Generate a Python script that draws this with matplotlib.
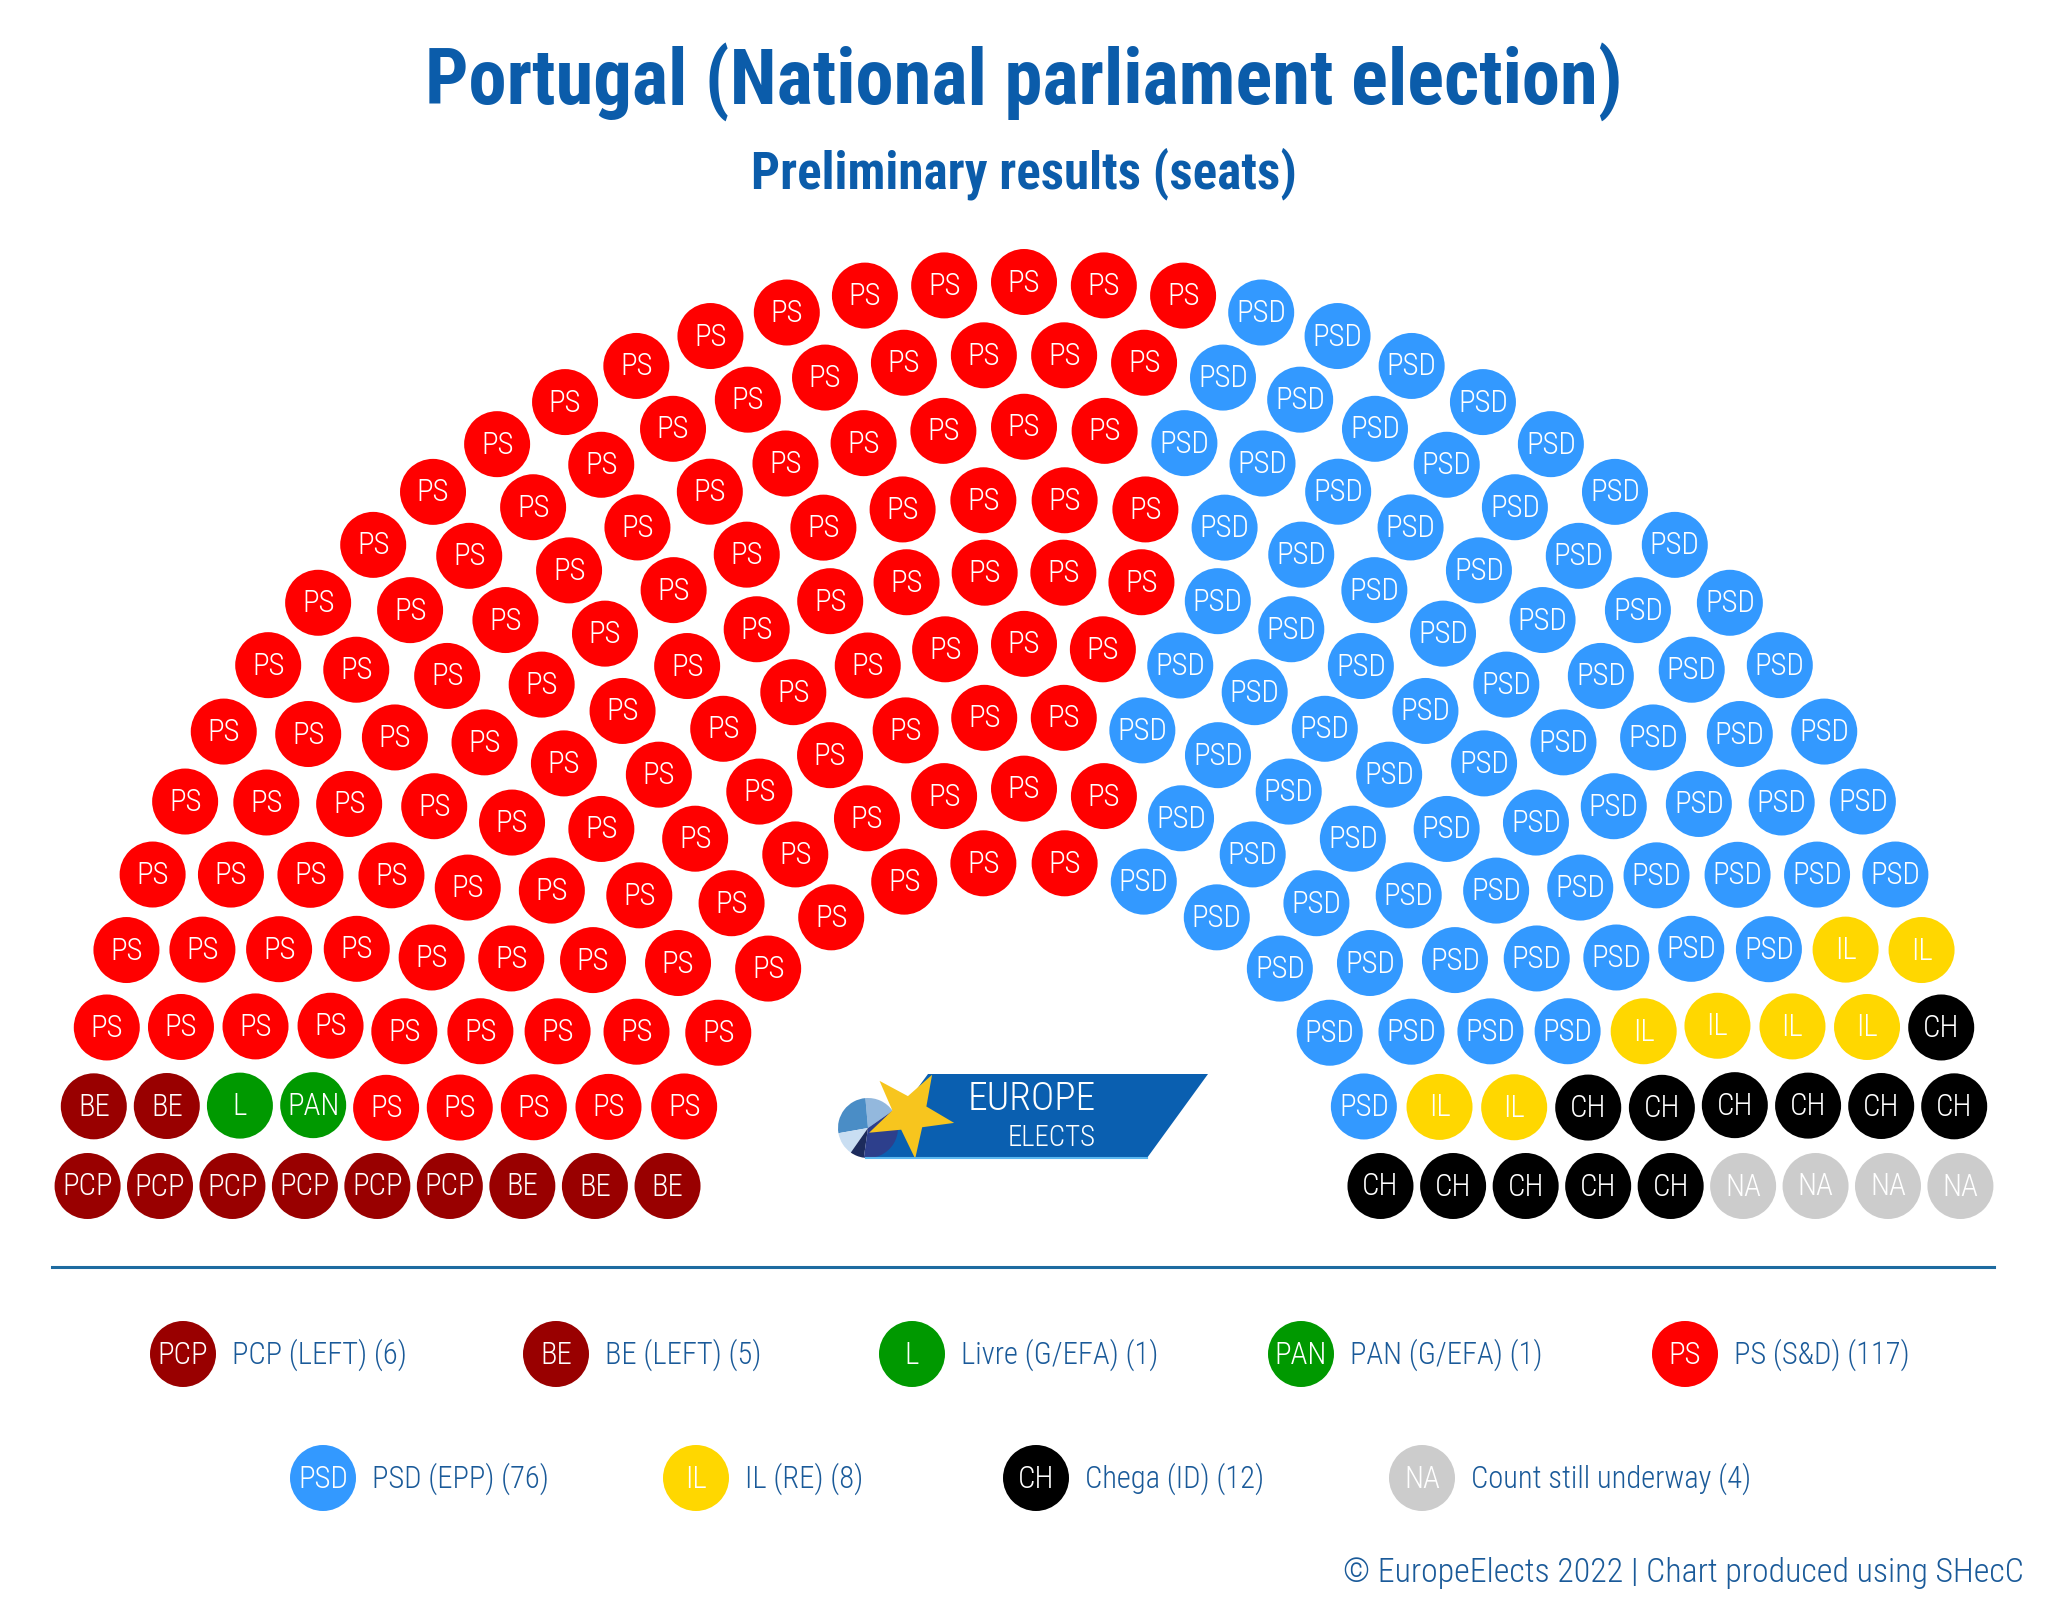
import os
import numpy as np
import matplotlib
matplotlib.use("Agg")
import matplotlib.pyplot as plt
from matplotlib import font_manager as fm
from matplotlib.patches import Circle, Polygon, Wedge

# ---------------- data ----------------
party_codes = ["PCP", "BE", "L", "PAN", "PS", "PSD", "IL", "CH", "NA"]
seat_counts = [6, 5, 1, 1, 117, 76, 8, 12, 4]
party_colors = ["#990000", "#990000", "#009900", "#009900", "#FF0000",
                "#3399FF", "#FFD700", "#000000", "#CCCCCC"]
legend_labels = ["PCP (LEFT) (6)", "BE (LEFT) (5)", "Livre (G/EFA) (1)",
                 "PAN (G/EFA) (1)", "PS (S&D) (117)", "PSD (EPP) (76)",
                 "IL (RE) (8)", "Chega (ID) (12)", "Count still underway (4)"]
title_text = "Portugal (National parliament election)"
subtitle_text = "Preliminary results (seats)"
footer_text = "\u00a9 EuropeElects 2022 | Chart produced using SHecC"

# ---------------- layout ----------------
W, H = 2048, 1609
BLUE = "#0B5CAA"
TXT_BLUE = "#1A5A99"
ring_seats = [14, 17, 20, 23, 26, 28, 31, 34, 37]      # inner -> outer
R_IN, R_OUT = 358, 937
CX, CY = 1024, 1219
DOT_R = 33

# fonts
files = {}
for f in fm.fontManager.ttflist:
    files.setdefault(os.path.basename(f.fname).lower(), f.fname)


def find_font(patterns, fallback):
    for pat in patterns:
        for k in sorted(files):
            if all(p in k for p in pat):
                return fm.FontProperties(fname=files[k])
    return fallback


fp_bold = find_font([("robotocondensed-bold",), ("liberationsansnarrow-bold.",),
                     ("notosans-condensedbold.",), ("opensans-condensedbold",),
                     ("dejavusanscondensed-bold.",), ("roboto-bold.",)],
                    fm.FontProperties(family="DejaVu Sans", weight="bold"))
fp_light = find_font([("robotocondensed-light.",), ("notosans-condensedlight.",),
                      ("robotocondensed-regular.",), ("liberationsansnarrow-regular.",),
                      ("opensans-condensedlight",), ("dejavusanscondensed.",),
                      ("roboto-light.",)],
                     fm.FontProperties(family="DejaVu Sans"))

fig = plt.figure(figsize=(W / 100, H / 100), dpi=100)
ax = fig.add_axes([0, 0, 1, 1])
ax.set_xlim(0, W)
ax.set_ylim(H, 0)
ax.axis("off")
renderer = fig.canvas.get_renderer()


def fit_size(text, fp, target_w):
    t = ax.text(0, 0, text, fontproperties=fp, fontsize=100)
    w = t.get_window_extent(renderer).width
    t.remove()
    return 100.0 * target_w / w


# ---------------- title ----------------
ax.text(W / 2, 82, title_text, fontproperties=fp_bold,
        fontsize=min(fit_size(title_text, fp_bold, 1199), 56),
        color=BLUE, ha="center", va="center")
ax.text(W / 2, 174, subtitle_text, fontproperties=fp_bold,
        fontsize=min(fit_size(subtitle_text, fp_bold, 546), 38),
        color=BLUE, ha="center", va="center")

# ---------------- hemicycle ----------------
radii = np.linspace(R_IN, R_OUT, len(ring_seats))
positions = []
for R, n in zip(radii, ring_seats):
    a0 = np.arcsin(DOT_R / R)
    for a in np.linspace(np.pi - a0, a0, n):
        positions.append((round(a, 9), R))
positions.sort(key=lambda p: (-p[0], -p[1]))

seat_party = []
for i, c in enumerate(seat_counts):
    seat_party += [i] * c

dot_fs = fit_size("PSD", fp_light, 50)
for (a, R), pi in zip(positions, seat_party):
    x = CX + R * np.cos(a)
    y = CY - R * np.sin(a)
    ax.add_patch(Circle((x, y), DOT_R, color=party_colors[pi], lw=0))
    ax.text(x, y + 1, party_codes[pi], fontproperties=fp_light, fontsize=dot_fs,
            color="white", ha="center", va="center")

# ---------------- logo ----------------
LOGO_BLUE = "#0A5FB0"
ax.add_patch(Polygon([(928, 1074), (1208, 1074), (1147, 1158), (866, 1158)],
                     closed=True, color=LOGO_BLUE, lw=0))
ax.plot([866, 1147], [1158, 1158], color="#5BB8F0", lw=1.5)
pc = (868, 1128)
pr = 30
for t1, t2, col in [(35, 95, "#93B8DD"), (95, 190, "#4A8DC6"),
                    (190, 235, "#C9DEF2"), (235, 262, "#1C2B5C"),
                    (262, 395, "#2D3F8C")]:
    ax.add_patch(Wedge(pc, pr, -t2, -t1, color=col, lw=0))
sc = (910, 1114)
star = []
for k in range(10):
    ang = np.deg2rad(60.6 + 36 * k)
    rr = 45 if k % 2 == 0 else 18
    star.append((sc[0] + rr * np.cos(ang), sc[1] - rr * np.sin(ang)))
ax.add_patch(Polygon(star, closed=True, color="#F7C51E", lw=0))
ax.text(1096, 1099, "EUROPE", fontproperties=fp_light,
        fontsize=fit_size("EUROPE", fp_light, 128), color="white",
        ha="right", va="center")
ax.text(1096, 1138, "ELECTS", fontproperties=fp_light,
        fontsize=fit_size("ELECTS", fp_light, 88), color="white",
        ha="right", va="center")

# ---------------- separator ----------------
ax.plot([52, 1994], [1267, 1267], color="#1E6BA0", lw=2.2)

# ---------------- legend ----------------
leg_x = [183, 556, 912, 1301, 1685, 323, 696, 1036, 1422]
leg_y = [1354] * 5 + [1478] * 4
leg_fs = fit_size(legend_labels[0], fp_light, 175)
for i in range(len(party_codes)):
    x, y = leg_x[i], leg_y[i]
    ax.add_patch(Circle((x, y), DOT_R, color=party_colors[i], lw=0))
    ax.text(x, y + 1, party_codes[i], fontproperties=fp_light, fontsize=dot_fs,
            color="white", ha="center", va="center")
    ax.text(x + 49, y + 1, legend_labels[i], fontproperties=fp_light,
            fontsize=leg_fs, color=TXT_BLUE, ha="left", va="center")

# ---------------- footer ----------------
ax.text(2024, 1573, footer_text, fontproperties=fp_light,
        fontsize=fit_size(footer_text, fp_light, 680), color=TXT_BLUE,
        ha="right", va="center")

fig.savefig("out.png", dpi=100, facecolor="white")
